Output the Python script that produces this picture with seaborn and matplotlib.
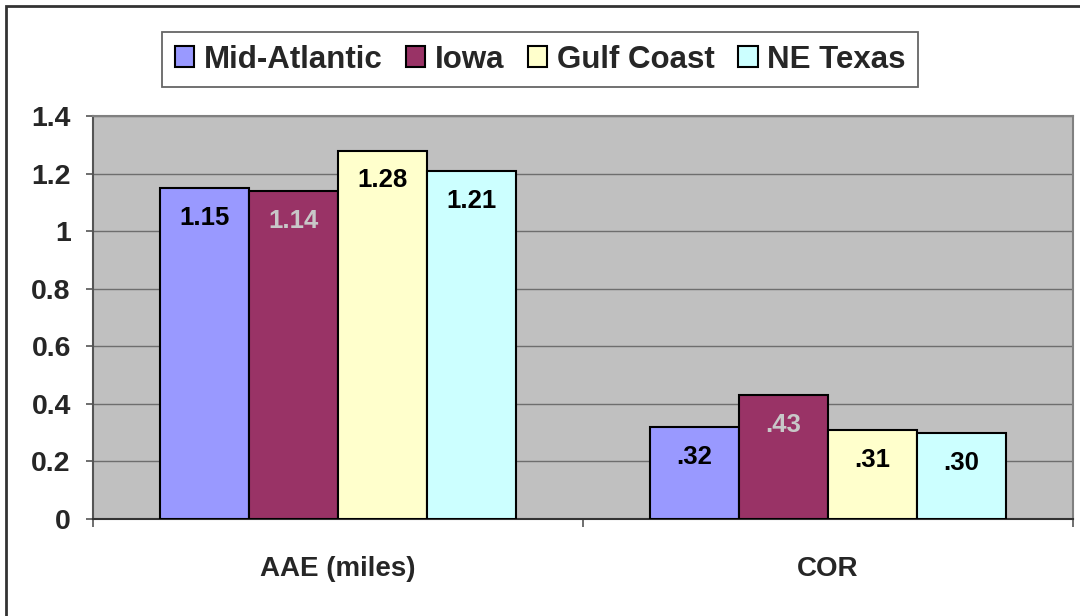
import matplotlib
matplotlib.use("Agg")
import matplotlib.pyplot as plt
import matplotlib.patches as mpatches
import seaborn as sns
import pandas as pd

categories = ["AAE (miles)", "COR"]
regions = ["Mid-Atlantic", "Iowa", "Gulf Coast", "NE Texas"]
aae_values = [1.15, 1.14, 1.28, 1.21]
cor_values = [0.32, 0.43, 0.31, 0.30]
aae_labels = ["1.15", "1.14", "1.28", "1.21"]
cor_labels = [".32", ".43", ".31", ".30"]
yticks = [0, 0.2, 0.4, 0.6, 0.8, 1, 1.2, 1.4]
ytick_labels = ["0", "0.2", "0.4", "0.6", "0.8", "1", "1.2", "1.4"]

colors = ["#9999FF", "#993366", "#FFFFCC", "#CCFFFF"]
label_colors = ["black", "#C8C8C8", "black", "black"]

rows = []
for r, v in zip(regions, aae_values):
    rows.append({"cat": categories[0], "region": r, "value": v})
for r, v in zip(regions, cor_values):
    rows.append({"cat": categories[1], "region": r, "value": v})
df = pd.DataFrame(rows)

sns.set_style("white")
plt.rcParams["font.family"] = ["Liberation Sans", "DejaVu Sans"]
plt.rcParams["font.weight"] = "bold"

fig = plt.figure(figsize=(10.8, 6.16), dpi=100)
ax = fig.add_axes([93 / 1080, 1 - 519 / 616, (1073 - 93) / 1080, (519 - 116) / 616])
ax.set_facecolor("#C0C0C0")

sns.barplot(data=df, x="cat", y="value", hue="region", order=categories,
            hue_order=regions, palette=colors, width=4 / 5.5, gap=0,
            edgecolor="black", linewidth=1.5, saturation=1, ax=ax,
            legend=True, zorder=3)

# value labels
for i, cont in enumerate(ax.containers):
    for j, bar in enumerate(cont):
        lab = [aae_labels, cor_labels][j][i]
        ax.annotate(lab, (bar.get_x() + bar.get_width() / 2, bar.get_height()),
                    xytext=(0, -21.5), textcoords="offset points",
                    ha="center", va="center", fontsize=18.5, fontweight="bold",
                    color=label_colors[i], zorder=5)

ax.set_ylim(0, 1.4)
ax.set_xlim(-0.5, 1.5)
ax.set_yticks(yticks)
ax.set_yticklabels(ytick_labels, fontsize=20.5, fontweight="bold")
ax.yaxis.grid(True, color="#6E6E6E", linewidth=1, zorder=0)
ax.set_axisbelow(True)

ax.set_xticks([-0.5, 0.5, 1.5])
ax.set_xticklabels(["", "", ""])
ax.set_xticks([0, 1], minor=True)
ax.set_xticklabels(categories, minor=True, fontsize=20, fontweight="bold")
ax.tick_params(axis="x", which="minor", length=0, pad=27)
ax.tick_params(axis="x", which="major", length=6, width=1.2, color="#555555", direction="out", bottom=True)
ax.tick_params(axis="y", length=5, width=1.2, color="#555555", direction="out", left=True, pad=11)
ax.set_xlabel("")
ax.set_ylabel("")

for side in ["top", "right"]:
    ax.spines[side].set_color("#808080")
    ax.spines[side].set_linewidth(1.5)
ax.spines["left"].set_color("#555555")
ax.spines["left"].set_linewidth(1.5)
ax.spines["bottom"].set_color("#333333")
ax.spines["bottom"].set_linewidth(1.5)

# legend
handles, lbls = ax.get_legend_handles_labels()
ax.get_legend().remove()
leg = fig.legend(handles, lbls, loc="upper center", bbox_to_anchor=(0.5, 1 - 32 / 616),
                 ncol=4, frameon=True, fancybox=False, framealpha=1,
                 edgecolor="#666666", handlelength=0.62, handleheight=0.62,
                 handletextpad=0.3, columnspacing=0.76, borderpad=0.4,
                 borderaxespad=0,
                 prop={"family": "Liberation Sans", "weight": "bold", "size": 22.5})
leg.get_frame().set_linewidth(1.3)
for h in leg.legend_handles:
    h.set_edgecolor("black")
    h.set_linewidth(1.5)

# outer chart frame
frame = mpatches.Rectangle((6 / 1080, -0.1), 1.2, 1 - 6 / 616 + 0.1,
                           transform=fig.transFigure, fill=False,
                           edgecolor="#333333", linewidth=2, clip_on=False)
fig.patches.append(frame)

fig.savefig("out.png", dpi=100)
